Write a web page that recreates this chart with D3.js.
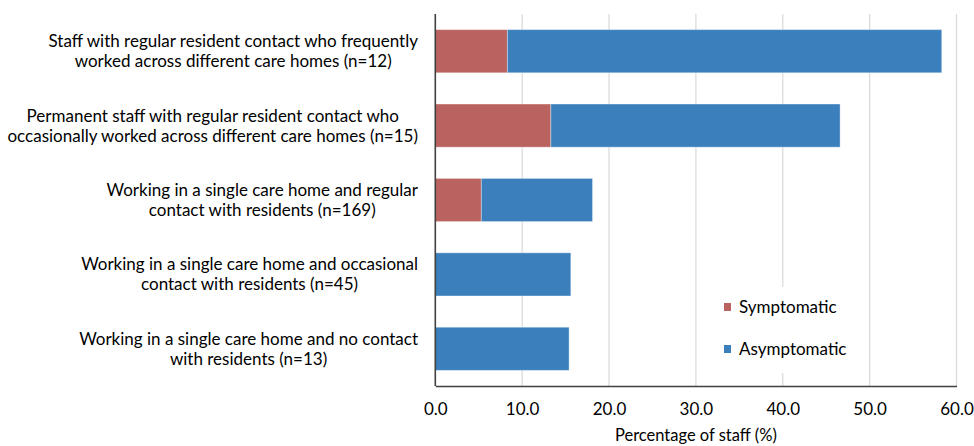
<!DOCTYPE html>
<html><head><meta charset="utf-8">
<script src="https://cdn.jsdelivr.net/npm/d3@7"></script>
<style>body{margin:0;background:#fff}svg{display:block}text{font-family:Lato,"Open Sans",sans-serif;fill:#000}</style>
</head><body><svg id="c" width="974" height="446"></svg>
<script>
const categories = [
  ["Staff with regular resident contact who frequently","worked across different care homes (n=12)"],
  ["Permanent staff with regular resident contact who","occasionally worked across different care homes (n=15)"],
  ["Working in a single care home and regular","contact with residents (n=169)"],
  ["Working in a single care home and occasional","contact with residents (n=45)"],
  ["Working in a single care home and no contact","with residents (n=13)"]
];
const symptomatic = [8.3, 13.3, 5.3, 0, 0];
const asymptomatic = [50.0, 33.3, 12.8, 15.6, 15.4];
const seriesNames = ["Symptomatic", "Asymptomatic"];
const colors = ["#B9625F", "#3B80BC"];
const xTicks = [0, 10, 20, 30, 40, 50, 60];
const xTitle = "Percentage of staff (%)";

const svg = d3.select("#c");
const L = 435.3, R = 956.5, T = 14, B = 386;
const x = d3.scaleLinear().domain([0, 60]).range([L, R]);
const y = d3.scaleBand().domain(d3.range(categories.length)).range([T, B]).paddingInner(0.42).paddingOuter(0.21);

// gridlines
svg.append("g").selectAll("line").data(xTicks.slice(1)).join("line")
  .attr("x1", d => x(d)).attr("x2", d => x(d)).attr("y1", T).attr("y2", B)
  .attr("stroke", "#d9d9d9").attr("stroke-width", 1.2);

// bars
const stacked = categories.map((c, i) => [
  {i, s: 0, x0: 0, x1: symptomatic[i]},
  {i, s: 1, x0: symptomatic[i], x1: symptomatic[i] + asymptomatic[i]}
]).flat().filter(d => d.x1 > d.x0);
svg.append("g").selectAll("rect").data(stacked).join("rect")
  .attr("x", d => x(d.x0)).attr("width", d => x(d.x1) - x(d.x0))
  .attr("y", d => y(d.i)).attr("height", y.bandwidth())
  .attr("fill", d => colors[d.s])
  .attr("stroke", "#ffffff").attr("stroke-opacity", 0.35).attr("stroke-width", 1);

// legend box (white background)
svg.append("rect").attr("x", 712).attr("y", 287).attr("width", 150).attr("height", 86).attr("fill", "#fff");
const leg = svg.append("g").selectAll("g").data(seriesNames).join("g")
  .attr("transform", (d, i) => `translate(724,${303 + i * 42})`);
leg.append("rect").attr("width", 7).attr("height", 8).attr("fill", (d, i) => colors[i]);
leg.append("text").attr("x", 15).attr("y", 10).attr("font-size", 17).text(d => d);

// axes
const xAxis = d3.axisBottom(x).tickValues(xTicks).tickFormat(d3.format(".1f")).tickSize(0).tickPadding(17);
const gx = svg.append("g").attr("transform", `translate(0,${B})`).call(xAxis);
gx.select(".domain").attr("stroke", "#404040").attr("stroke-width", 1.6);
gx.selectAll("text").attr("font-size", 17).attr("font-family", "Lato,sans-serif").attr("fill", "#000");

svg.append("line").attr("x1", L).attr("x2", L).attr("y1", T).attr("y2", B)
  .attr("stroke", "#404040").attr("stroke-width", 1.6);

// category labels (multi-line, lines centered, block right-aligned)
const lab = svg.append("g").selectAll("g").data(categories).join("g");
lab.each(function(lines, i) {
  const g = d3.select(this);
  const cy = y(i) + y.bandwidth() / 2;
  const ts = lines.map((t, k) => g.append("text").attr("font-size", 17)
    .attr("text-anchor", "middle").attr("y", cy - 4 + (k - (lines.length - 1) / 2) * 20 + 10).text(t));
  const w = d3.max(ts, t => t.node().getComputedTextLength());
  ts.forEach(t => t.attr("x", 418 - w / 2));
});

svg.append("text").attr("x", (L + R) / 2).attr("y", 441).attr("text-anchor", "middle")
  .attr("font-size", 16.5).text(xTitle);
</script></body></html>
